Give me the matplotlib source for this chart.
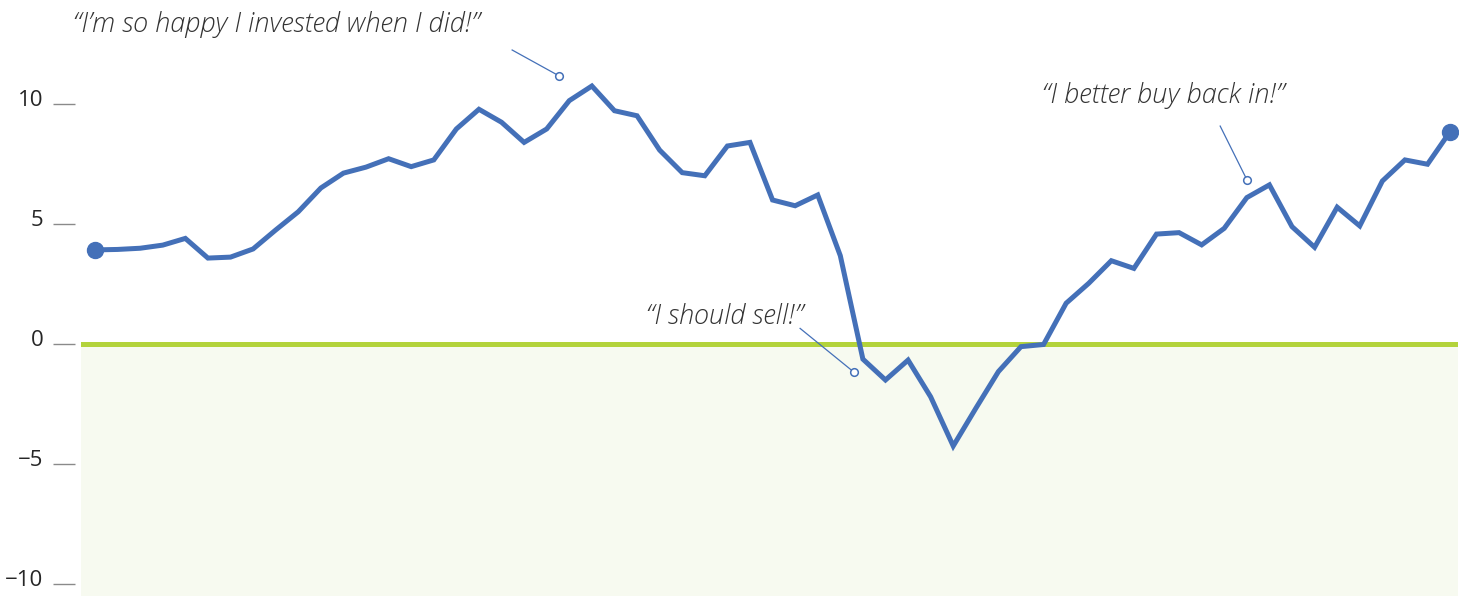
import matplotlib as mpl
mpl.use('Agg')
import numpy as np
import matplotlib.pyplot as plt
from matplotlib.transforms import ScaledTranslation

# values, one per step
values = [3.92, 3.94, 3.99, 4.12, 4.40, 3.58, 3.62, 3.96, 4.75, 5.51,
          6.50, 7.12, 7.37, 7.72, 7.39, 7.67, 8.96, 9.78, 9.24, 8.40,
          8.96, 10.14, 10.75, 9.72, 9.51, 8.08, 7.14, 7.01, 8.25, 8.40,
          6.00, 5.76, 6.21, 3.68, -0.63, -1.50, -0.67, -2.20, -4.25, -2.68,
          -1.15, -0.11, -0.02, 1.70, 2.53, 3.47, 3.15, 4.58, 4.64, 4.13,
          4.82, 6.10, 6.63, 4.89, 4.03, 5.70, 4.92, 6.79, 7.67, 7.49,
          8.85]
steps = np.arange(len(values))
yticks = [10, 5, 0, -5, -10]

# quotes: text, text anchor (x, y, ha), leader line start, leader line end
quotes = ['\u201cI\u2019m so happy I invested when I did!\u201d',
          '\u201cI should sell!\u201d',
          '\u201cI better buy back in!\u201d']
quote_pos = [(-0.97, 13.0, 'left'), (31.35, 0.82, 'right'), (41.93, 10.04, 'left')]
leader_start = [(18.47, 12.25), (31.22, 0.65), (49.82, 9.08)]
leader_end = [(20.55, 11.17), (33.60, -1.17), (51.01, 6.83)]

blue = '#4470B8'
green = '#B3D33B'

fig = plt.figure(figsize=(14.65, 5.96), dpi=100)
ax = fig.add_axes([81 / 1465, 0, (1458 - 81) / 1465, 1])

ax.axhspan(-10.5, 0, color='#F7FAF0', lw=0, zorder=0)
ax.axhline(0, color=green, lw=3.6, zorder=1)

ax.plot(steps, values, color=blue, lw=3.6, solid_joinstyle='miter', zorder=3)
ax.plot([steps[0], steps[-1]], [values[0], values[-1]], 'o', color=blue,
        ms=11.5, zorder=4)

for txt, (tx, ty, ha), (x0, y0), (x1, y1) in zip(quotes, quote_pos,
                                                 leader_start, leader_end):
    ax.text(tx, ty, txt, ha=ha, va='baseline', fontsize=19.5,
            family='Open Sans', style='italic', weight='light',
            color='#333333', clip_on=False)
    ax.plot([x0, x1], [y0, y1], color=blue, lw=0.9, zorder=5, clip_on=False)
    ax.plot([x1], [y1], 'o', ms=5.5, mfc='white', mec=blue, mew=1.1,
            zorder=6, clip_on=False)

ax.set_xlim(-0.62, 60.35)
ax.set_ylim(-10.5, 344 / 24)

for side in ['top', 'right', 'bottom', 'left']:
    ax.spines[side].set_visible(False)
ax.spines['left'].set_position(('outward', 4.3))
ax.set_xticks([])
ax.set_yticks(yticks)
ax.set_yticklabels([f'{t:d}'.replace('-', '\u2212') for t in yticks])
ax.tick_params(axis='y', length=15.8, width=1, color='#8a8a8a', pad=7,
               labelsize=16, labelcolor='#262626')
offset = ScaledTranslation(0, 6 / 100, fig.dpi_scale_trans)
for lab in ax.get_yticklabels():
    lab.set_family('Open Sans')
    lab.set_transform(lab.get_transform() + offset)

fig.savefig('out.png', dpi=100)
plt.close()
